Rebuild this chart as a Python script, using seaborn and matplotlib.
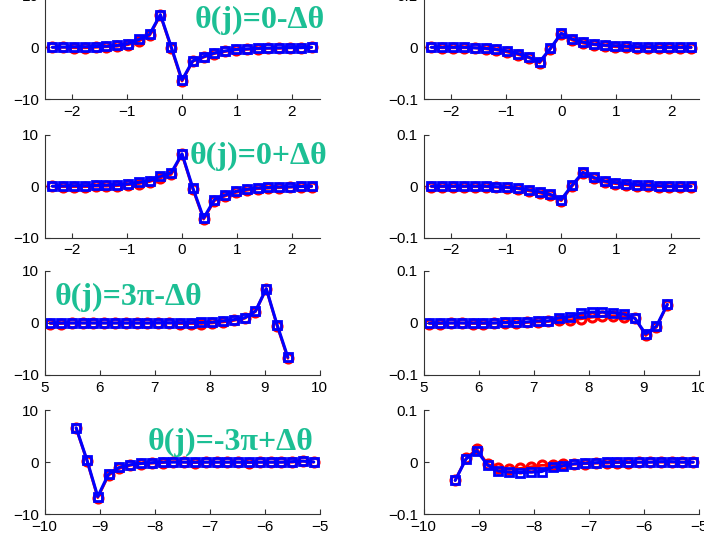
import matplotlib
matplotlib.use('Agg')
import matplotlib.pyplot as plt
import seaborn as sns
import pandas as pd
from matplotlib.ticker import FuncFormatter, FixedLocator

sns.set_style('ticks')
plt.rcParams['font.family'] = ['Liberation Sans', 'DejaVu Sans']

# ---------------- data ----------------
x_center = [-2.356, -2.160, -1.963, -1.767, -1.571, -1.374, -1.178, -0.982, -0.785, -0.589,
            -0.393, -0.196, 0.0, 0.196, 0.393, 0.589, 0.785, 0.982, 1.178, 1.374,
            1.571, 1.767, 1.963, 2.160, 2.356]
x_pos = [5.105, 5.301, 5.498, 5.694, 5.890, 6.087, 6.283, 6.480, 6.676, 6.872, 7.069, 7.265,
         7.461, 7.658, 7.854, 8.050, 8.247, 8.443, 8.639, 8.836, 9.032, 9.228, 9.425]
x_neg = [-9.425, -9.228, -9.032, -8.836, -8.639, -8.443, -8.247, -8.050, -7.854, -7.658,
         -7.461, -7.265, -7.069, -6.872, -6.676, -6.480, -6.283, -6.087, -5.890, -5.694,
         -5.498, -5.301, -5.105]

# row 1: theta(j) = 0 - dtheta
r1_left_blue = [0, 0.05, 0.1, 0.1, 0.15, 0.2, 0.35, 0.7, 1.5, 2.5, 6.3, 0.1, -6.3, -2.6, -1.8,
                -1.1, -0.7, -0.4, -0.3, -0.2, -0.15, -0.1, -0.05, -0.05, 0]
r1_left_red = [0, 0, -0.1, -0.1, 0, 0.1, 0.2, 0.5, 1.2, 2.3, 6.2, -0.1, -6.5, -2.7, -1.9,
               -1.2, -0.8, -0.5, -0.4, -0.3, -0.2, -0.2, -0.1, -0.1, 0]
r1_right_blue = [0, 0, 0, 0, -0.001, -0.002, -0.004, -0.007, -0.012, -0.019, -0.028, -0.002,
                 0.027, 0.016, 0.010, 0.006, 0.004, 0.003, 0.002, 0.001, 0.001, 0, 0, 0, 0]
r1_right_red = [0, -0.001, -0.001, -0.001, -0.001, -0.003, -0.005, -0.009, -0.014, -0.020,
                -0.030, -0.003, 0.026, 0.014, 0.008, 0.005, 0.003, 0.001, 0, -0.001, -0.001,
                -0.001, -0.001, -0.001, -0.001]

# row 2: theta(j) = 0 + dtheta
r2_left_blue = [0, 0.05, 0.1, 0.1, 0.15, 0.2, 0.3, 0.45, 0.75, 1.1, 1.9, 2.6, 6.3, -0.3, -6.2,
                -2.6, -1.7, -1.0, -0.6, -0.35, -0.25, -0.15, -0.1, -0.05, 0]
r2_left_red = [0, -0.1, -0.1, -0.1, 0, 0, 0.1, 0.3, 0.5, 0.9, 1.6, 2.3, 6.2, -0.5, -6.4,
               -2.8, -1.9, -1.2, -0.8, -0.5, -0.4, -0.3, -0.2, -0.1, -0.1]
r2_right_blue = [0, 0, 0, 0, 0, 0, -0.001, -0.002, -0.004, -0.007, -0.011, -0.016, -0.026,
                 0.002, 0.027, 0.017, 0.010, 0.007, 0.005, 0.003, 0.002, 0.001, 0, 0, 0]
r2_right_red = [-0.001, -0.001, -0.001, -0.001, -0.001, -0.001, -0.002, -0.003, -0.005,
                -0.009, -0.013, -0.018, -0.028, 0.0, 0.025, 0.015, 0.008, 0.005, 0.003,
                0.001, 0, -0.001, -0.001, -0.001, -0.001]

# row 3: theta(j) = 3pi - dtheta
r3_left_blue = [0, 0, 0, 0, 0, 0, 0, 0, 0, 0, 0.05, 0.05, 0.05, 0.05, 0.1, 0.15, 0.4, 0.65,
                1.0, 2.3, 6.6, -0.3, -6.6]
r3_left_red = [-0.1, -0.1, 0, 0, 0, 0, 0, 0, 0, 0, 0, 0, -0.1, -0.1, -0.1, 0, 0.2, 0.5, 0.9,
               2.2, 6.6, -0.5, -6.8]
r3_right_blue = [0, 0, 0, 0, 0, 0, 0, 0.001, 0.001, 0.002, 0.004, 0.004, 0.010, 0.012, 0.019,
                 0.021, 0.021, 0.020, 0.017, 0.009, -0.021, -0.006, 0.036]
r3_right_red = [-0.001, -0.001, 0, 0, -0.001, -0.001, 0, 0, 0, 0.001, 0.002, 0.003, 0.005,
                0.006, 0.008, 0.011, 0.013, 0.014, 0.012, 0.010, -0.024, -0.008, 0.035]

# row 4: theta(j) = -3pi + dtheta
r4_left_blue = [6.6, 0.4, -6.6, -2.3, -1.0, -0.5, -0.25, -0.1, 0, 0, 0, 0, 0, 0, 0, 0, 0, 0,
                0, 0, 0.1, 0.2, 0.05]
r4_left_red = [6.5, 0.3, -6.8, -2.5, -1.2, -0.6, -0.3, -0.2, -0.1, 0.1, 0, -0.1, 0, 0, 0, 0,
               -0.1, 0, 0, 0, 0, 0.2, 0]
r4_right_blue = [-0.035, 0.006, 0.022, -0.006, -0.017, -0.019, -0.020, -0.019, -0.018, -0.010,
                 -0.007, -0.003, -0.002, -0.001, 0, 0, 0, 0, 0, 0.001, 0.001, 0, 0]
r4_right_red = [-0.035, 0.007, 0.025, -0.004, -0.012, -0.014, -0.012, -0.009, -0.006, -0.006,
                -0.004, -0.004, -0.003, -0.002, -0.002, -0.001, -0.001, 0, 0, 0, 0, 0, 0]

labels = ['θ(j)=0-Δθ', 'θ(j)=0+Δθ', 'θ(j)=3π-Δθ', 'θ(j)=-3π+Δθ']

xticks_c = [-2, -1, 0, 1, 2]
xticks_p = [5, 6, 7, 8, 9, 10]
xticks_n = [-10, -9, -8, -7, -6, -5]
yticks_l = [-10, 0, 10]
yticks_r = [-0.1, 0, 0.1]

rows = [
    (x_center, (-2.5, 2.5), xticks_c, r1_left_red, r1_left_blue, r1_right_red, r1_right_blue),
    (x_center, (-2.5, 2.5), xticks_c, r2_left_red, r2_left_blue, r2_right_red, r2_right_blue),
    (x_pos, (5, 10), xticks_p, r3_left_red, r3_left_blue, r3_right_red, r3_right_blue),
    (x_neg, (-10, -5), xticks_n, r4_left_red, r4_left_blue, r4_right_red, r4_right_blue),
]

# ---------------- layout ----------------
W, H = 704, 537
fig = plt.figure(figsize=(W / 100, H / 100), dpi=100)

col_px = [(44.5, 275.0), (423.5, 275.5)]
row_px = [(-4.7, 99.3), (134.7, 237.7), (271.0, 375.0), (410.0, 514.3)]

fmt = FuncFormatter(lambda v, p: ('%g' % v).replace('-', '\u2212'))

def style_axes(ax, xlim, xticks, ylim, yticks):
    ax.set_xlim(*xlim)
    ax.set_ylim(*ylim)
    ax.xaxis.set_major_locator(FixedLocator(xticks))
    ax.yaxis.set_major_locator(FixedLocator(yticks))
    ax.xaxis.set_major_formatter(fmt)
    ax.yaxis.set_major_formatter(fmt)
    ax.tick_params(direction='in', length=3.5, width=0.8, labelsize=11,
                   colors='#333333', labelcolor='black', pad=4)
    for s in ['top', 'right']:
        ax.spines[s].set_visible(False)
    for s in ['left', 'bottom']:
        ax.spines[s].set_linewidth(0.8)
        ax.spines[s].set_color('#333333')
    ax.set_xlabel('')
    ax.set_ylabel('')

def draw(ax, x, red, blue):
    df_r = pd.DataFrame({'x': x, 'y': red})
    df_b = pd.DataFrame({'x': x, 'y': blue})
    sns.lineplot(data=df_r, x='x', y='y', ax=ax, color='red', linewidth=2.0,
                 marker='o', markersize=6.5, markerfacecolor='none',
                 markeredgecolor='red', markeredgewidth=2.2, sort=False)
    sns.lineplot(data=df_b, x='x', y='y', ax=ax, color='blue', linewidth=2.2,
                 marker='s', markersize=6.2, markerfacecolor='none',
                 markeredgecolor='blue', markeredgewidth=2.0, sort=False)

for i, (x, xlim, xticks, lr, lb, rr, rb) in enumerate(rows):
    top, bot = row_px[i]
    for j, (lpx, wpx) in enumerate(col_px):
        ax = fig.add_axes([lpx / W, 1 - bot / H, wpx / W, (bot - top) / H])
        ax.patch.set_alpha(0)
        if j == 0:
            draw(ax, x, lr, lb)
            style_axes(ax, xlim, xticks, (-10, 10), yticks_l)
        else:
            draw(ax, x, rr, rb)
            style_axes(ax, xlim, xticks, (-0.1, 0.1), yticks_r)

text_pos = [(195, 20), (190, 156), (55, 297), (148, 442)]
for (px, py), lab in zip(text_pos, labels):
    fig.text(px / W, 1 - py / H, lab, ha='left', va='center', color='#1cbf94',
             fontsize=23, fontweight='bold', family=['Liberation Serif', 'DejaVu Serif'])

fig.savefig('out.png', dpi=100)
